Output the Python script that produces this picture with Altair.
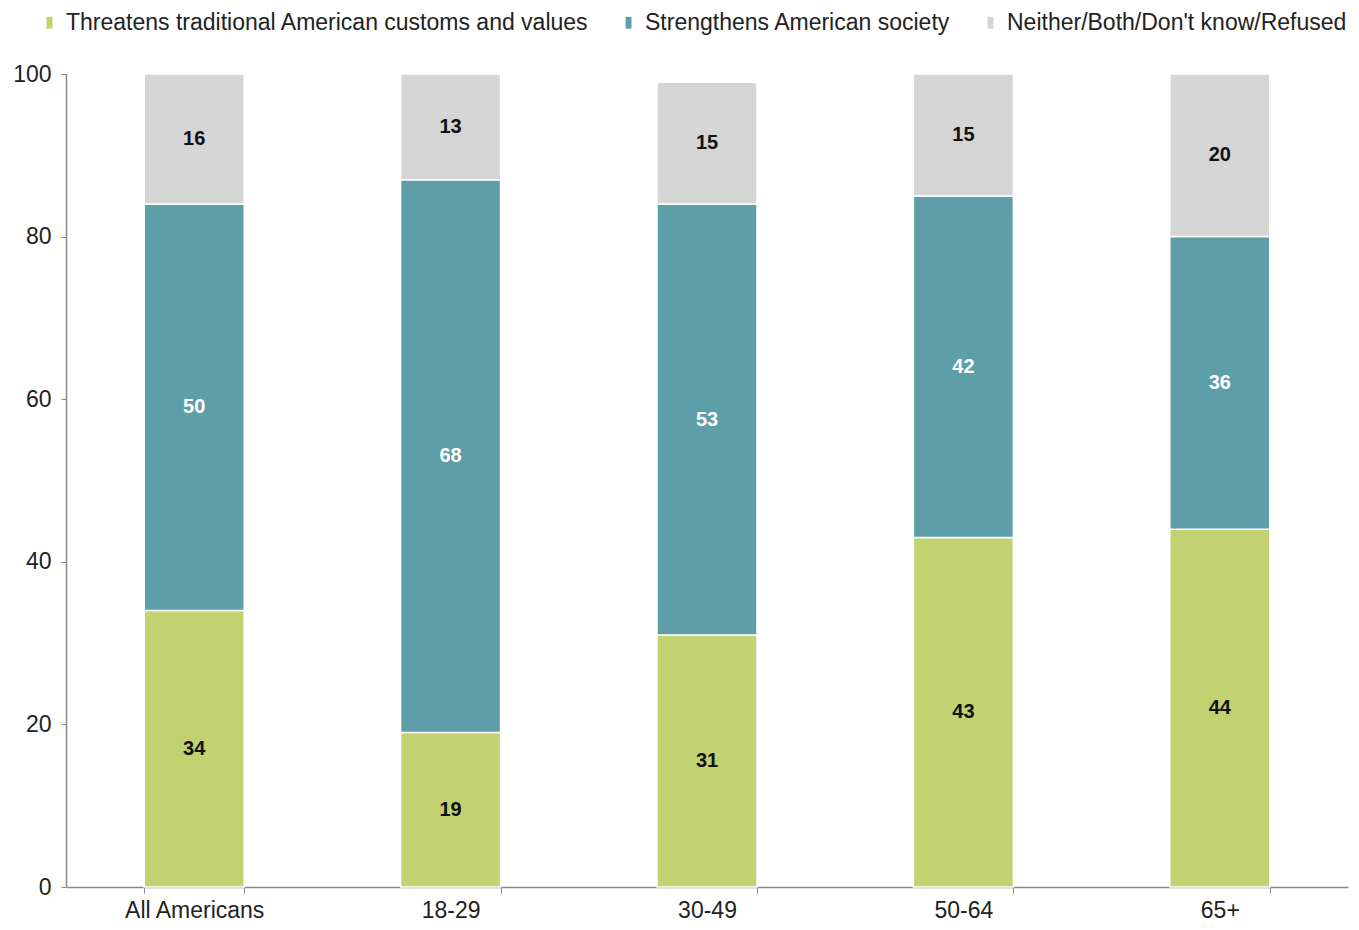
import altair as alt
import pandas as pd

categories = ["All Americans", "18-29", "30-49", "50-64", "65+"]
series = [
    "Threatens traditional American customs and values",
    "Strengthens American society",
    "Neither/Both/Don't know/Refused",
]
threatens = [34, 19, 31, 43, 44]
strengthens = [50, 68, 53, 42, 36]
neither = [16, 13, 15, 15, 20]
colors = ["#c2d270", "#5d9ea8", "#d5d5d5"]
label_colors = ["#111111", "#ffffff", "#111111"]

rows = []
for i, c in enumerate(categories):
    for j, (s, vals) in enumerate(zip(series, [threatens, strengthens, neither])):
        rows.append({"category": c, "series": s, "value": vals[i], "order": j})
df = pd.DataFrame(rows)

FONT = "Liberation Sans"

x_enc = alt.X(
    "category:N",
    sort=categories,
    title=None,
    scale=alt.Scale(paddingInner=0.61, paddingOuter=0.305),
    axis=alt.Axis(
        labelAngle=0,
        labelFontSize=23,
        labelFont=FONT,
        labelColor="#222222",
        tickBand="extent",
        tickSize=6,
        tickColor="#888888",
        domainColor="#888888",
        domainWidth=1.5,
        labelPadding=6,
    ),
)

base = alt.Chart(df).transform_stack(
    stack="value",
    as_=["y0", "y1"],
    groupby=["category"],
    sort=[alt.SortField("order", order="ascending")],
).transform_calculate(mid="(datum.y0 + datum.y1) / 2")

bars = base.mark_bar(stroke="white", strokeWidth=1.5).encode(
    x=x_enc,
    y=alt.Y(
        "y0:Q",
        title=None,
        scale=alt.Scale(domain=[0, 100], nice=False),
        axis=alt.Axis(
            values=[0, 20, 40, 60, 80, 100],
            grid=False,
            labelFontSize=23,
            labelFont=FONT,
            labelColor="#222222",
            tickSize=5,
            tickColor="#888888",
            domainColor="#888888",
            domainWidth=1.5,
            labelPadding=10,
        ),
    ),
    y2="y1:Q",
    color=alt.Color(
        "series:N",
        sort=series,
        scale=alt.Scale(domain=series, range=colors),
        legend=alt.Legend(
            title=None,
            orient="none",
            direction="horizontal",
            legendX=-28,
            legendY=-63,
            labelFontSize=23,
            labelFont=FONT,
            labelColor="#222222",
            symbolType="M-0.5,-1H0.5V1H-0.5Z",
            symbolSize=140,
            symbolStrokeWidth=0,
            labelOffset=5,
            columnPadding=28,
            labelLimit=800,
        ),
    ),
)

labels = base.mark_text(fontSize=20, fontWeight="bold", font=FONT).encode(
    x=alt.X("category:N", sort=categories),
    y=alt.Y("mid:Q"),
    text="value:Q",
    color=alt.Color(
        "series:N",
        scale=alt.Scale(domain=series, range=label_colors),
        legend=None,
    ),
)

chart = (
    alt.layer(bars, labels)
    .resolve_scale(color="independent")
    .properties(
        width=1282,
        height=813,
        padding={"left": 58, "top": 66, "right": 3, "bottom": 35},
        autosize=alt.AutoSizeParams(type="none"),
    )
    .configure(background="white")
    .configure_view(stroke=None)
)

chart.save("out.html", embed_options={"renderer": "svg", "actions": False})
